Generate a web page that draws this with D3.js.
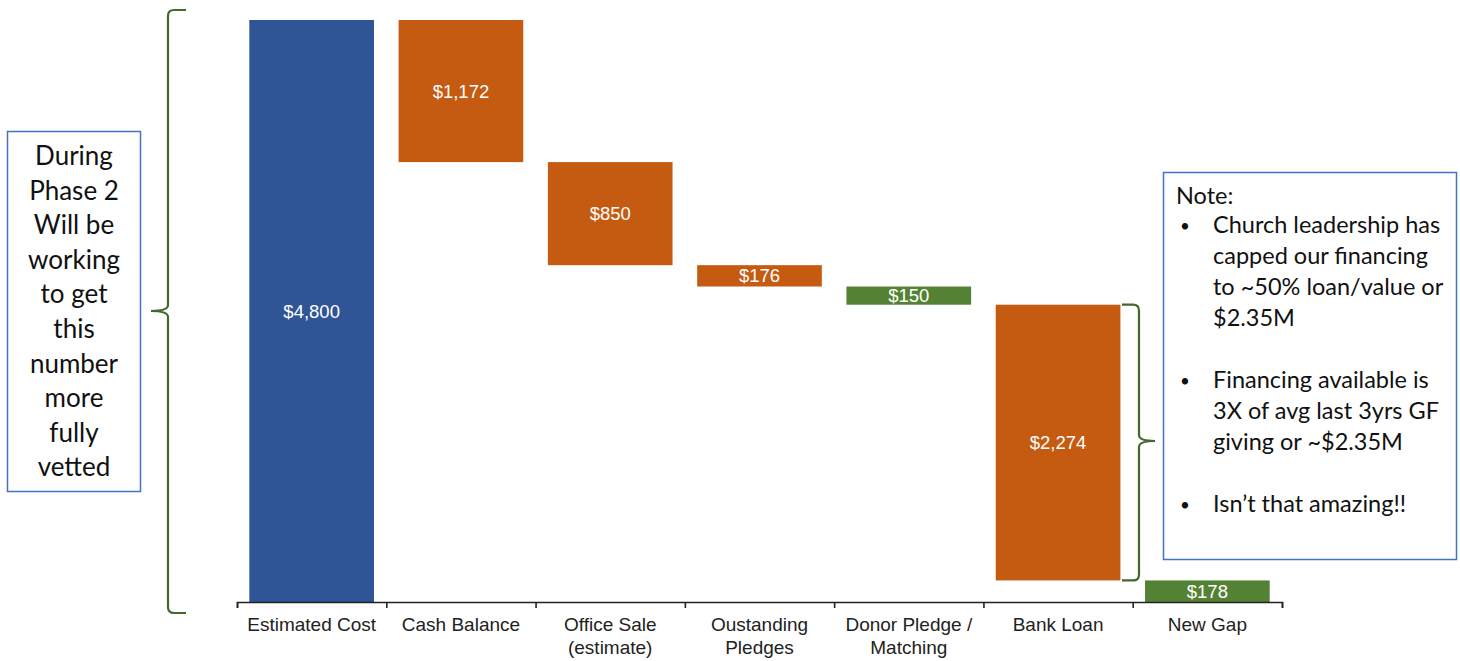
<!DOCTYPE html>
<html>
<head>
<meta charset="utf-8">
<script src="https://cdn.jsdelivr.net/npm/d3@7"></script>
<style>
  body { margin: 0; background: #fff; }
  svg { display: block; }
  .cat text { font-family: "Liberation Sans", Arial, sans-serif; font-size: 19px; fill: #222; }
  .val { font-family: "Liberation Sans", Arial, sans-serif; font-size: 18.5px; fill: #fff; }
  .note { font-family: Lato, "Open Sans", sans-serif; fill: #111; }
</style>
</head>
<body>
<svg id="chart" width="1460" height="661"></svg>
<script>
// waterfall data
var categories = ["Estimated Cost", "Cash Balance", "Office Sale\n(estimate)", "Oustanding\nPledges",
                  "Donor Pledge /\nMatching", "Bank Loan", "New Gap"];
var amounts = [4800, 1172, 850, 176, 150, 2274, 178];
var kinds = ["total", "reduce", "reduce", "reduce", "pledge", "reduce", "gap"];
var yMax = 4800;

var leftNote = ["During", "Phase 2", "Will be", "working", "to get", "this", "number", "more", "fully", "vetted"];
var noteTitle = "Note:";
var noteBullets = [
  ["Church leadership has", "capped our financing", "to ~50% loan/value or", "$2.35M"],
  ["Financing available is", "3X of avg last 3yrs GF", "giving or ~$2.35M"],
  ["Isn\u2019t that amazing!!"]
];

var colors = { total: "#2F5597", reduce: "#C55A11", pledge: "#548235", gap: "#548235" };

var svg = d3.select("#chart");

var x = d3.scaleBand().domain(d3.range(categories.length)).range([237, 1282]).paddingInner(0.165).paddingOuter(0.0825);
var xEdge = d3.scaleLinear().domain([0, categories.length]).range([237, 1282]);
var y = d3.scaleLinear().domain([0, yMax]).range([602, 20]);

// running totals for the steps
var level = 0;
var bars = amounts.map(function(v, i) {
  var lo, hi;
  if (kinds[i] == "total") { lo = 0; hi = v; level = v; }
  else if (kinds[i] == "gap") { lo = 0; hi = v; }
  else { hi = level; lo = level - v; level = lo; }
  return { i: i, v: v, kind: kinds[i], lo: lo, hi: hi };
});

svg.selectAll("rect.bar").data(bars).enter().append("rect")
  .attr("class", "bar")
  .attr("x", d => x(d.i))
  .attr("width", x.bandwidth())
  .attr("y", d => y(d.hi))
  .attr("height", d => y(d.lo) - y(d.hi))
  .attr("fill", d => colors[d.kind]);

svg.selectAll("text.val").data(bars).enter().append("text")
  .attr("class", "val")
  .attr("x", d => x(d.i) + x.bandwidth() / 2)
  .attr("y", d => (y(d.lo) + y(d.hi)) / 2)
  .attr("dy", "0.36em")
  .attr("text-anchor", "middle")
  .text(d => "$" + d3.format(",")(d.v));

// axis line with ticks at the band edges
svg.append("g")
  .attr("transform", "translate(0," + y(0) + ")")
  .call(d3.axisBottom(xEdge).tickValues(d3.range(categories.length + 1)).tickFormat("").tickSize(6).tickSizeOuter(6))
  .call(g => g.selectAll("path, line").attr("stroke", "#222").attr("stroke-width", 1.6));

// category labels
var cat = svg.append("g")
  .attr("class", "cat")
  .attr("transform", "translate(0," + y(0) + ")")
  .call(d3.axisBottom(x).tickSize(0).tickFormat(""));
cat.select(".domain").remove();
cat.selectAll(".tick").each(function(i) {
  var lines = categories[i].split("\n");
  var t = d3.select(this).append("text").attr("text-anchor", "middle").attr("y", 29);
  lines.forEach(function(l, k) {
    t.append("tspan").attr("x", 0).attr("dy", k == 0 ? 0 : 22.5).text(l);
  });
});

// braces
function brace(xLine, xTip, xPoint, top, bottom, mid) {
  var s = Math.sign(xTip - xLine), r = 6;
  return "M" + xTip + "," + top +
    " L" + (xLine + s * r) + "," + top +
    " Q" + xLine + "," + top + " " + xLine + "," + (top + r) +
    " L" + xLine + "," + (mid - 6) +
    " Q" + xLine + "," + mid + " " + xPoint + "," + mid +
    " Q" + xLine + "," + mid + " " + xLine + "," + (mid + 6) +
    " L" + xLine + "," + (bottom - r) +
    " Q" + xLine + "," + bottom + " " + (xLine + s * r) + "," + bottom +
    " L" + xTip + "," + bottom;
}
svg.append("path").attr("d", brace(168, 186, 151, 10, 613, 311))
  .attr("fill", "none").attr("stroke", "#43682B").attr("stroke-width", 2.2);
var bl = bars[5];
svg.append("path").attr("d", brace(1139, 1122, 1155, y(bl.hi), y(bl.lo), 441))
  .attr("fill", "none").attr("stroke", "#43682B").attr("stroke-width", 2.2);

// left note box
svg.append("rect").attr("x", 7.5).attr("y", 131.5).attr("width", 133).attr("height", 360)
  .attr("fill", "#fff").attr("stroke", "#4472C4").attr("stroke-width", 1.5);
svg.append("g").selectAll("text").data(leftNote).enter().append("text")
  .attr("class", "note")
  .attr("x", 74).attr("y", (d, i) => 165 + i * 34.6)
  .attr("text-anchor", "middle")
  .style("font-size", "26px")
  .text(d => d);

// right note box
svg.append("rect").attr("x", 1163.5).attr("y", 172.5).attr("width", 293).attr("height", 387)
  .attr("fill", "#fff").attr("stroke", "#4472C4").attr("stroke-width", 1.5);
var rn = svg.append("g").attr("class", "note").style("font-size", "23.5px");
rn.append("text").attr("x", 1176).attr("y", 204).text(noteTitle);
var lineY = 233;
noteBullets.forEach(function(b) {
  rn.append("text").attr("x", 1180).attr("y", lineY - 1).style("font-size", "17px").text("\u2022");
  b.forEach(function(l) {
    rn.append("text").attr("x", 1213).attr("y", lineY).text(l);
    lineY += 31;
  });
  lineY += 31;
});
</script>
</body>
</html>
